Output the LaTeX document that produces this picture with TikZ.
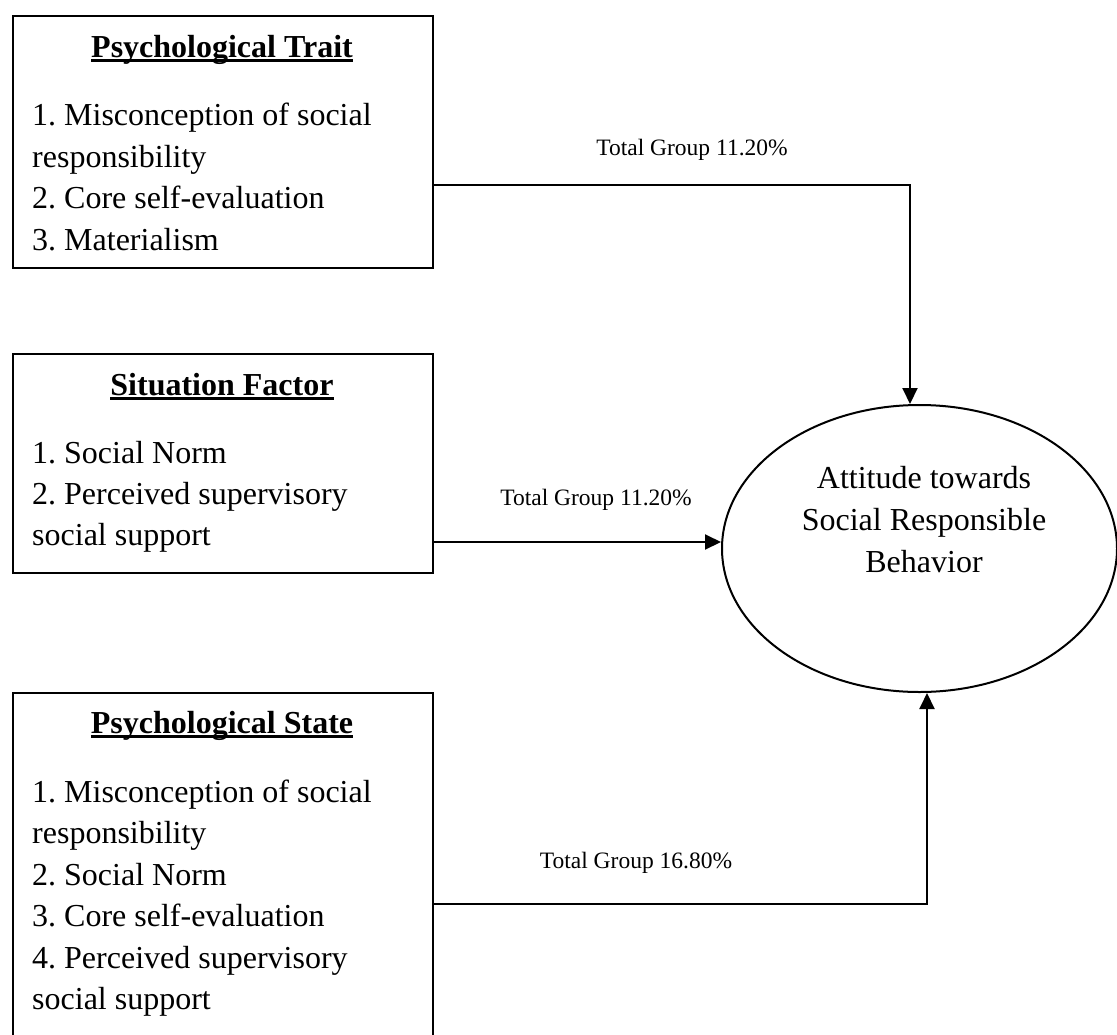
\documentclass[tikz,border=0pt]{standalone}
\usepackage{fontspec}
\setmainfont{Liberation Serif}
\usetikzlibrary{arrows.meta,shapes.geometric}
\frenchspacing

% underline drawn through the descenders, as word processors do
\newcommand\wordul[1]{\setbox0\hbox{#1}\rlap{\rule[-4.5pt]{\wd0}{2.4pt}}\box0}

\tikzset{
  every picture/.style={x=1pt,y=-1pt},
  frame/.style={draw,line width=2pt,rectangle,anchor=north west,inner sep=0pt},
  title/.style={anchor=base,inner sep=0pt,font=\fontsize{32}{41.5}\selectfont\bfseries},
  item/.style={anchor=base west,inner sep=0pt,font=\fontsize{32}{41.5}\selectfont},
  ctext/.style={anchor=base,inner sep=0pt,font=\fontsize{32}{41.5}\selectfont},
  pct/.style={anchor=base,inner sep=0pt,font=\fontsize{23.5}{28}\selectfont},
  link/.style={line width=2pt,-{Triangle[length=16pt,width=15pt]}},
}

\begin{document}
\begin{tikzpicture}
\useasboundingbox (0,0) rectangle (1117,1034);

% the three factor boxes
\node[frame,minimum width=420pt,minimum height=252pt] (trait) at (12,15) {};
\node[frame,minimum width=420pt,minimum height=219pt] (situ) at (12,353) {};
\node[frame,minimum width=420pt,minimum height=360pt] (state) at (12,692) {};

% outcome ellipse
\node[draw,line width=2pt,ellipse,minimum width=395pt,minimum height=287pt,inner sep=0pt] (att) at (919.5,548.5) {};

% box headings
\node[title] (traitT) at (222,57) {\wordul{Psychological Trait}};
\node[title] (situT) at (222,395) {\wordul{Situation Factor}};
\node[title] (stateT) at (222,733) {\wordul{Psychological State}};

% box contents
\node[item] (tr1) at (32,125.5) {1. Misconception of social};
\node[item] (tr2) at (32,167) {responsibility};
\node[item] (tr3) at (32,208.5) {2. Core self-evaluation};
\node[item] (tr4) at (32,250) {3. Materialism};

\node[item] (si1) at (32,463) {1. Social Norm};
\node[item] (si2) at (32,504) {2. Perceived supervisory};
\node[item] (si3) at (32,545) {social support};

\node[item] (st1) at (32,802) {1. Misconception of social};
\node[item] (st2) at (32,843.5) {responsibility};
\node[item] (st3) at (32,885) {2. Social Norm};
\node[item] (st4) at (32,926.5) {3. Core self-evaluation};
\node[item] (st5) at (32,968) {4. Perceived supervisory};
\node[item] (st6) at (32,1009.5) {social support};

% ellipse text
\node[ctext] (at1) at (924,488) {Attitude towards};
\node[ctext] (at2) at (924,530) {Social Responsible};
\node[ctext] (at3) at (924,572) {Behavior};

% connector bends
\coordinate (bend1) at (910,185);
\coordinate (row2) at (600,542);
\coordinate (bend3) at (927,904);

\draw[link] (trait.east |- bend1) -- (bend1) -- (bend1 |- att.north);
\draw[link] (situ.east |- row2) -- (att.west |- row2);
\draw[link] (state.east |- bend3) -- (bend3) -- (bend3 |- att.south);

% path labels
\node[pct] (p1) at (692,155) {Total Group 11.20\%};
\node[pct] (p2) at (596,505) {Total Group 11.20\%};
\node[pct] (p3) at (636,868) {Total Group 16.80\%};
\end{tikzpicture}
\end{document}
